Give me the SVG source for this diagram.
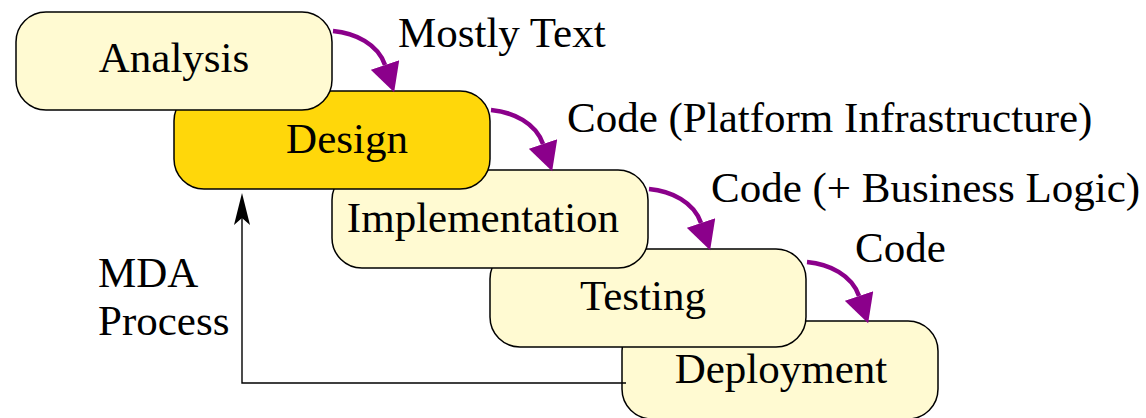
<svg xmlns="http://www.w3.org/2000/svg" width="1146" height="418" viewBox="0 0 1146 418">
<style>
.box{fill:#FFFAD2;stroke:#000;stroke-width:1.5}
.hl{fill:#FFD70A}
.t{font-family:'Liberation Serif','Times New Roman',serif;font-size:43px;fill:#000}
.c{text-anchor:middle}
.flow{fill:none;stroke:#8B008B;stroke-width:4.5}
.fb{fill:none;stroke:#000;stroke-width:1.4}
</style>
<defs>
<marker id="ah" markerUnits="userSpaceOnUse" markerWidth="30" markerHeight="30" refX="0" refY="13" orient="auto" viewBox="0 0 26 26">
<path d="M0,0 L25,13 L0,26 z" fill="#8B008B"/>
</marker>
</defs>
<g id="deployment"><rect class="box" x="622" y="321" width="316" height="98" rx="30"/><text class="t c" x="781" y="383">Deployment</text></g>
<g id="testing"><rect class="box" x="490" y="249" width="316" height="98" rx="30"/><text class="t c" x="643" y="310">Testing</text></g>
<g id="implementation"><rect class="box" x="332" y="170" width="316" height="98" rx="30"/><text class="t c" x="483" y="232">Implementation</text></g>
<g id="design"><rect class="box hl" x="174" y="91" width="316" height="98" rx="30"/><text class="t c" x="347" y="153">Design</text></g>
<g id="analysis"><rect class="box" x="16" y="12" width="316" height="98" rx="30"/><text class="t c" x="174" y="72">Analysis</text></g>
<g id="connectors">
<path class="flow" d="M333,31 C355,33 378,44 385,65" marker-end="url(#ah)"/>
<path class="flow" d="M491,110 C513,112 536,123 543,144" marker-end="url(#ah)"/>
<path class="flow" d="M649,189 C671,191 694,202 701,223" marker-end="url(#ah)"/>
<path class="flow" d="M807,262 C829,264 852,275 859,296" marker-end="url(#ah)"/>
<path class="fb" d="M626,383 L242,383 L242,215"/>
<path d="M242,193 L250,225 L242,218 L234,225 z" fill="#000"/>
</g>
<g id="labels">
<text class="t" x="398" y="47">Mostly Text</text>
<text class="t" x="567" y="132">Code (Platform Infrastructure)</text>
<text class="t" x="711" y="202">Code (+ Business Logic)</text>
<text class="t" x="855" y="262">Code</text>
<text class="t" x="98" y="287">MDA</text>
<text class="t" x="98" y="335">Process</text>
</g>
</svg>
